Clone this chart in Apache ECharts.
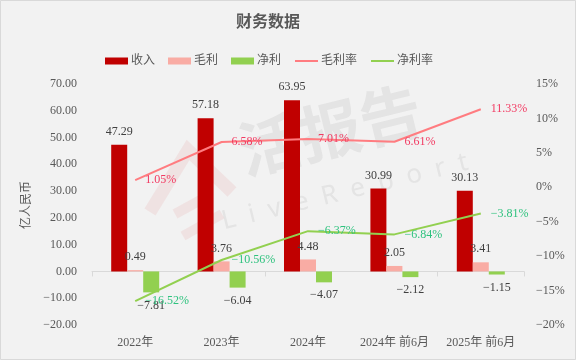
<!DOCTYPE html>
<html>
<head>
<meta charset="utf-8">
<style>
html,body{margin:0;padding:0;background:#f2f2f2;}
#c{width:576px;height:360px;}
</style>
<script src="https://cdn.jsdelivr.net/npm/echarts@6/dist/echarts.min.js"></script>
</head>
<body>
<div id="c"></div>
<script>
var categories = ['2022年', '2023年', '2024年', '2024年 前6月', '2025年 前6月'];
var revenue = [47.29, 57.18, 63.95, 30.99, 30.13];
var grossProfit = [0.49, 3.76, 4.48, 2.05, 3.41];
var netProfit = [-7.81, -6.04, -4.07, -2.12, -1.15];
var grossMargin = [1.05, 6.58, 7.01, 6.61, 11.33];
var netMargin = [-16.52, -10.56, -6.37, -6.84, -3.81];
var yAxisName = '亿人民币';

var FONT = '"Liberation Serif", "DejaVu Serif", "Noto Sans CJK SC", serif';
var TXT = '#595959';

var chart = echarts.init(document.getElementById('c'), null, {renderer: 'canvas'});
var barLabel = function (pos) {
  return {show: true, position: pos, distance: 7, color: '#404040', fontFamily: FONT, fontSize: 12,
    formatter: function (p) { return p.value.toFixed(2).replace('-', '\u2212'); }};
};
var pctLabel = function (color) {
  return {show: true, position: 'right', distance: 10, color: color, fontFamily: FONT, fontSize: 12,
    formatter: function (p) { return p.value.toFixed(2).replace('-', '\u2212') + '%'; }};
};

chart.setOption({
  backgroundColor: '#f2f2f2',
  animation: false,
  title: {text: '财务数据', left: 263, textAlign: 'center', top: 10,
    textStyle: {fontFamily: FONT, fontSize: 16, fontWeight: 'bold', color: TXT}},
  legend: {top: 50, left: 100, itemWidth: 23, itemHeight: 7, itemGap: 13,
    textStyle: {fontFamily: FONT, fontSize: 12, color: TXT, padding: [0, 0, 0, -2]},
    data: [{name: '收入', icon: 'rect'}, {name: '毛利', icon: 'rect'}, {name: '净利', icon: 'rect'},
      {name: '毛利率', itemStyle: {opacity: 0}}, {name: '净利率', itemStyle: {opacity: 0}}]},
  grid: {left: 92, right: 52, top: 84, bottom: 35},
  graphic: [
    {type: 'rect', shape: {x: 0.5, y: 0.5, width: 575, height: 359}, style: {fill: 'none', stroke: '#d9d9d9', lineWidth: 1}, z: 100},
    {type: 'text', x: 27, y: 205, rotation: Math.PI / 2,
      style: {text: yAxisName, fontSize: 12, fontFamily: FONT, fill: TXT, align: 'center', verticalAlign: 'middle'}},
    {type: 'polyline', shape: {points: [[150, 212], [188, 150], [232, 192]]}, style: {fill: 'none', stroke: 'rgba(225,120,120,0.13)', lineWidth: 13}, z: -1},
    {type: 'polyline', shape: {points: [[175, 214], [208, 196]]}, style: {fill: 'none', stroke: 'rgba(225,120,120,0.13)', lineWidth: 10}, z: -1},
    {type: 'polyline', shape: {points: [[183, 236], [222, 214]]}, style: {fill: 'none', stroke: 'rgba(225,120,120,0.13)', lineWidth: 10}, z: -1},
    {type: 'text', x: 330, y: 130, rotation: 0.24, z: -1,
      style: {text: '活报告', fontSize: 62, fontWeight: 'bold', fontFamily: '"Noto Sans CJK SC", sans-serif', fill: 'rgba(150,150,150,0.15)', align: 'center', verticalAlign: 'middle'}},
    {type: 'text', x: 345, y: 192, rotation: 0.24, z: -1,
      style: {text: 'L  i  v  e  R  e  p  o  r  t', fontSize: 26, fontFamily: '"Noto Sans", sans-serif', fill: 'rgba(150,150,150,0.15)', align: 'center', verticalAlign: 'middle'}}
  ],
  xAxis: [
    {type: 'category', data: categories, position: 'bottom',
      axisLine: {show: false, onZero: false}, axisTick: {show: false},
      axisLabel: {interval: 0, color: TXT, fontFamily: FONT, fontSize: 12, margin: 12}},
    {type: 'category', data: categories, position: 'bottom',
      axisLine: {show: true, onZero: true, lineStyle: {color: '#d9d9d9'}},
      axisTick: {show: true, length: 5, lineStyle: {color: '#d9d9d9'}},
      axisLabel: {show: false}}
  ],
  yAxis: [
    {type: 'value', min: -20, max: 70, interval: 10,
      axisLine: {show: false}, axisTick: {show: false}, splitLine: {show: false},
      axisLabel: {color: TXT, fontFamily: FONT, fontSize: 12, margin: 15,
        formatter: function (v) { return v.toFixed(2).replace('-', '\u2212'); }}},
    {type: 'value', min: -20, max: 15, interval: 5, position: 'right',
      axisLine: {show: false}, axisTick: {show: false}, splitLine: {show: false},
      axisLabel: {color: TXT, fontFamily: FONT, fontSize: 12, margin: 12,
        formatter: function (v) { return String(v).replace('-', '\u2212') + '%'; }}}
  ],
  series: [
    {name: '收入', type: 'bar', data: revenue, barWidth: 16, barGap: '0%', itemStyle: {color: '#c00000'}, label: barLabel('top')},
    {name: '毛利', type: 'bar', data: grossProfit, barWidth: 16, barGap: '0%', itemStyle: {color: '#f9aca4'}, label: barLabel('top')},
    {name: '净利', type: 'bar', data: netProfit, barWidth: 16, barGap: '0%', itemStyle: {color: '#92d050'}, label: barLabel('bottom')},
    {name: '毛利率', type: 'line', yAxisIndex: 1, data: grossMargin, symbol: 'circle', symbolSize: 0.01, showSymbol: true, z: 5,
      lineStyle: {color: '#ff7c80', width: 2}, itemStyle: {color: '#ff7c80'}, label: pctLabel('#f23a62')},
    {name: '净利率', type: 'line', yAxisIndex: 1, data: netMargin, symbol: 'circle', symbolSize: 0.01, showSymbol: true, z: 5,
      lineStyle: {color: '#92d050', width: 2}, itemStyle: {color: '#92d050'}, label: pctLabel('#2ec27e')}
  ]
});
</script>
</body>
</html>
